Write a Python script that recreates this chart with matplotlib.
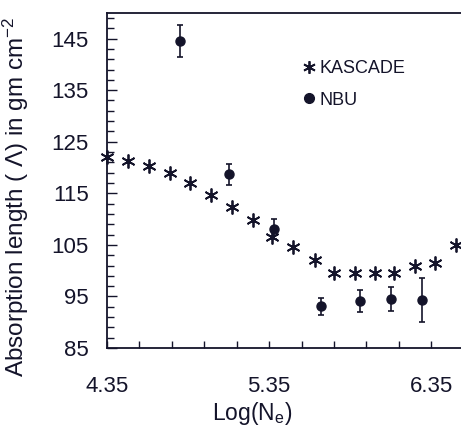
import matplotlib
matplotlib.use("Agg")
import matplotlib.pyplot as plt
from matplotlib.lines import Line2D
from matplotlib.ticker import MultipleLocator, FixedLocator

plt.rcParams['font.family'] = ['Liberation Sans', 'DejaVu Sans']
plt.rcParams['mathtext.fontset'] = 'custom'
plt.rcParams['mathtext.rm'] = 'Liberation Sans'
plt.rcParams['mathtext.it'] = 'Liberation Sans'

ink = '#14142a'

# KASCADE values
kascade_x = [4.35, 4.48, 4.61, 4.74, 4.86, 4.99, 5.12, 5.25, 5.37,
             5.50, 5.63, 5.75, 5.88, 6.00, 6.12, 6.25, 6.37, 6.50]
kascade_y = [122.1, 121.2, 120.2, 118.9, 117.0, 114.7, 112.4, 109.8, 106.6,
             104.6, 102.0, 99.6, 99.6, 99.6, 99.6, 100.9, 101.4, 104.9]

# NBU values with errors
nbu_x = [4.80, 5.10, 5.38, 5.67, 5.91, 6.10, 6.29]
nbu_y = [144.5, 118.7, 108.1, 93.1, 94.1, 94.5, 94.3]
nbu_err = [3.1, 2.0, 1.9, 1.6, 2.1, 2.35, 4.3]

x_major = [4.35, 5.35, 6.35]
x_minor = [4.55, 4.75, 4.95, 5.15, 5.55, 5.75, 5.95, 6.15]

fig = plt.figure(figsize=(4.61, 4.26), dpi=100)
ax = fig.add_axes([0.232, 0.183, 0.768, 0.787])

ax.plot(kascade_x, kascade_y, linestyle='none', marker=(6, 2, 0),
        markersize=10, markeredgewidth=1.3, color=ink, clip_on=False)
ax.errorbar(nbu_x, nbu_y, yerr=nbu_err, fmt='o', markersize=6.5,
            color=ink, ecolor=ink, elinewidth=1.2, capsize=2.3,
            capthick=1.2)

ax.set_xlim(4.35, 6.533)
ax.set_ylim(85, 150)
ax.xaxis.set_major_locator(FixedLocator(x_major))
ax.xaxis.set_minor_locator(FixedLocator(x_minor))
ax.yaxis.set_major_locator(MultipleLocator(10, offset=5))
ax.yaxis.set_minor_locator(MultipleLocator(2, offset=1))
ax.set_xticklabels(['4.35', '5.35', '6.35'])

ax.tick_params(axis='both', which='both', direction='in', colors=ink,
               labelsize=16, top=False, right=False)
ax.tick_params(axis='y', which='major', length=7, width=1, pad=13)
ax.tick_params(axis='y', which='minor', length=5, width=1)
ax.tick_params(axis='x', which='both', length=5, width=1, pad=20)

for side in ['left', 'bottom', 'top']:
    ax.spines[side].set_color(ink)
    ax.spines[side].set_linewidth(1.3)
ax.spines['right'].set_visible(False)

ax.set_xlabel(r'Log(N$_\mathrm{e}$)', fontsize=16.5, color=ink)
ax.xaxis.set_label_coords(0.41, -0.155)
ax.set_ylabel(r'Absorption length ( $\Lambda$) in gm cm$^{-2}$',
              fontsize=17.5, color=ink)
ax.yaxis.set_label_coords(-0.215, 0.45)

handles = [
    Line2D([], [], linestyle='none', marker=(6, 2, 0), markersize=9,
           markeredgewidth=1.3, color=ink),
    Line2D([], [], linestyle='none', marker='o', markersize=7, color=ink),
]
ax.legend(handles, ['KASCADE', 'NBU'], loc='upper left',
          bbox_to_anchor=(0.53, 0.88), frameon=False, fontsize=13,
          handlelength=0.8, handletextpad=0.2, labelspacing=0.8,
          borderaxespad=0, labelcolor=ink)

fig.savefig('out.png', dpi=100)
